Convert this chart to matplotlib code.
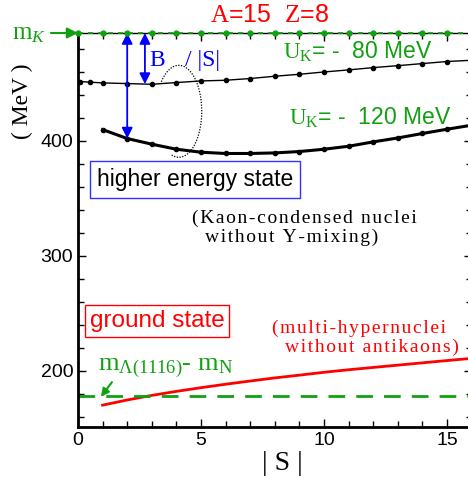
import numpy as np
import matplotlib
matplotlib.use("Agg")
import matplotlib.pyplot as plt
from matplotlib.ticker import MultipleLocator

# ====== Data ======
MK = 493.7          # kaon mass (MeV)
M_LAM_N = 177.7     # m_Lambda(1116) - m_N

S_upper = [0.1, 0.5, 1, 2, 3, 4, 5, 6, 7, 8, 9, 10, 11, 12, 13, 14, 15, 16]
E_upper = [451.5, 450.9, 450.3, 449.7, 449.1, 450.6, 452.0, 452.6, 454.1,
           456.1, 457.8, 459.8, 461.6, 463.6, 465.3, 467.1, 468.9, 470.0]   # U_K = -80 MeV

S_lower = [1, 2, 3, 4, 5, 6, 7, 8, 9, 10, 11, 12, 13, 14, 15, 16]
E_lower = [409.7, 401.9, 397.0, 392.6, 390.0, 388.9, 388.9, 389.4, 390.6,
           392.6, 395.2, 399.0, 402.4, 406.3, 410.0, 413.5]                # U_K = -120 MeV

S_ground = [1, 2, 3, 4, 5, 6, 7, 8, 9, 10, 11, 12, 13, 14, 15, 16]
E_ground = [170.0, 174.5, 178.5, 182.0, 185.2, 188.2, 191.0, 193.7, 196.1,
            198.6, 200.8, 202.8, 204.8, 206.8, 208.8, 210.7]               # multi-hypernuclei

S_mk_marks = list(range(0, 17))
# ===========================================

plt.rcParams['mathtext.fontset'] = 'custom'
plt.rcParams['mathtext.rm'] = 'Liberation Serif'
plt.rcParams['mathtext.it'] = 'Liberation Serif:italic'
plt.rcParams['mathtext.bf'] = 'Liberation Serif:bold'
plt.rcParams['font.family'] = 'Liberation Sans'

SERIF = ['Liberation Serif', 'DejaVu Serif']
GREEN = '#10a010'


def spaced(s):
    # the original uses loosely tracked serif text
    return '\n'.join('\u200a'.join(line) for line in s.split('\n'))


fig = plt.figure(figsize=(4.68, 4.8), dpi=100)
ax = fig.add_axes([78 / 468, 53 / 480, 393.6 / 468, 394 / 480])
ax.set_xlim(0, 16)
ax.set_ylim(151, MK)

# curves
ax.plot(S_upper, E_upper, color='black', lw=1.0, marker='o', ms=3)
ax.plot(S_lower, E_lower, color='black', lw=2.2, marker='o', ms=3)
ax.plot(S_ground, E_ground, color='red', lw=2.0)

# reference levels
ax.axhline(M_LAM_N, color=GREEN, lw=2, dashes=(6, 4))
ax.plot(S_mk_marks, [MK] * len(S_mk_marks), color=GREEN, lw=1.2, dashes=(3, 3),
        marker='o', ms=3.5, clip_on=False, zorder=5)

# axes styling
for side in ['left', 'bottom']:
    ax.spines[side].set_linewidth(2)
ax.spines['top'].set_linewidth(1)
ax.xaxis.set_major_locator(MultipleLocator(5))
ax.xaxis.set_minor_locator(MultipleLocator(1))
ax.yaxis.set_major_locator(MultipleLocator(100))
ax.yaxis.set_minor_locator(MultipleLocator(20))
ax.tick_params(which='both', direction='in', top=True, right=True, labelsize=14)
ax.tick_params(which='major', length=6, width=1)
ax.tick_params(which='minor', length=4, width=1)

# blue B/|S| arrows
arr = dict(arrowstyle='<|-|>', color='blue', lw=1.3, mutation_scale=16,
           shrinkA=0, shrinkB=0)
ax.annotate('', xy=(2, E_lower[1]), xytext=(2, MK), arrowprops=arr)
ax.annotate('', xy=(2.72, np.interp(2.72, S_upper, E_upper)), xytext=(2.72, MK),
            arrowprops=arr)
ax.text(2.9, 470, 'B', color='blue', family=SERIF, fontsize=17, va='center')
ax.text(4.35, 470, '/ |S|', color='blue', family=SERIF, fontsize=17, va='center')

# dotted arc linking the two curves
t = np.radians(np.linspace(140, -110, 120))
ax.plot(4.1 + 0.93 * np.cos(t), 425.6 + 40 * np.sin(t), color='black',
        lw=0.9, ls=(0, (1, 1.2)))

# U_K labels
ax.text(8.33, 477, r'$\mathrm{U}_{\mathrm{K}}$= -  80 MeV', color=GREEN,
        fontsize=16.5, va='center')
ax.text(8.58, 419.5, r'$\mathrm{U}_{\mathrm{K}}$= -  120 MeV', color=GREEN,
        fontsize=16.5, va='center')

# state labels
ax.text(4.76, 366.5, 'higher energy state', fontsize=16.5, ha='center', va='center',
        bbox=dict(boxstyle='square,pad=0.3', fc='white', ec='#3030ff', lw=1))
ax.text(4.63, 324.3, spaced('(Kaon-condensed nuclei\n  without Y-mixing)'),
        family=SERIF, fontsize=14, va='center', linespacing=1.15)
ax.text(3.21, 243, 'ground state', color='red', fontsize=17.5, ha='center',
        va='center', bbox=dict(boxstyle='square,pad=0.2', fc='white', ec='red', lw=1))
ax.text(7.89, 228.7, spaced('(multi-hypernuclei\n  without antikaons)'), color='red',
        family=SERIF, fontsize=14, va='center', linespacing=1.15)

ax.text(0.8, 202.2, r'$\mathrm{m}_{\Lambda(1116)}$- $\mathrm{m}_{\mathrm{N}}$',
        color=GREEN, family=SERIF, fontsize=19, va='center')
ax.annotate('', xy=(0.93, M_LAM_N - 0.5), xytext=(1.38, 190),
            arrowprops=dict(arrowstyle='-|>', color=GREEN, lw=1.5, mutation_scale=12,
                            shrinkA=0, shrinkB=0))

# m_K marker outside the axes
ax.annotate('', xy=(0, MK), xytext=(-1.1, MK), annotation_clip=False,
            arrowprops=dict(arrowstyle='-|>', color=GREEN, lw=1.5, mutation_scale=16,
                            shrinkA=0, shrinkB=0))
fig.text(12 / 468, 1 - 33 / 480, r'$\mathrm{m}_{\mathit{K}}$', color=GREEN,
         fontsize=18, va='center')

# titles and axis labels
fig.text(270 / 468, 1 - 15 / 480, r'$\mathrm{A}$=15  $\mathrm{Z}$=8', color='red',
         fontsize=18, ha='center', va='center')
fig.text(22 / 468, 1 - 101 / 480, '( MeV )', family=SERIF, fontsize=17,
         rotation=90, ha='center', va='center')
fig.text(282 / 468, 1 - 463 / 480, '| S |', family=SERIF, fontsize=20,
         ha='center', va='center')

fig.savefig('out.png', dpi=100)
